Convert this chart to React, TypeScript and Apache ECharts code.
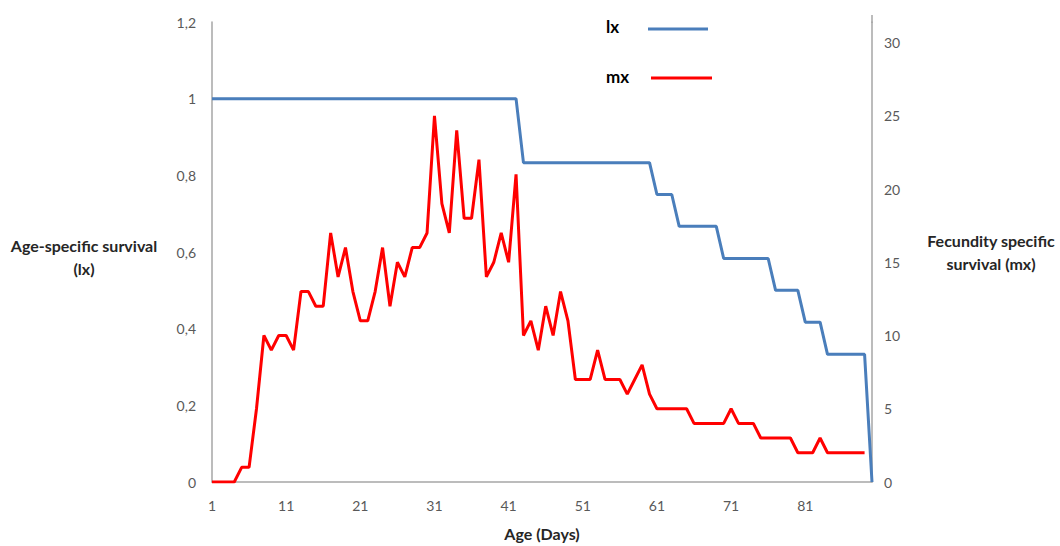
import React, { useEffect, useRef } from "react";
import * as echarts from "echarts";

// Age in days (categories 1..90)
const ageDays: string[] = [
  "1","2","3","4","5","6","7","8","9","10",
  "11","12","13","14","15","16","17","18","19","20",
  "21","22","23","24","25","26","27","28","29","30",
  "31","32","33","34","35","36","37","38","39","40",
  "41","42","43","44","45","46","47","48","49","50",
  "51","52","53","54","55","56","57","58","59","60",
  "61","62","63","64","65","66","67","68","69","70",
  "71","72","73","74","75","76","77","78","79","80",
  "81","82","83","84","85","86","87","88","89","90",
];

// Age-specific survival (lx), left axis
const lxValues: number[] = [
  1, 1, 1, 1, 1, 1, 1, 1, 1, 1,
  1, 1, 1, 1, 1, 1, 1, 1, 1, 1,
  1, 1, 1, 1, 1, 1, 1, 1, 1, 1,
  1, 1, 1, 1, 1, 1, 1, 1, 1, 1,
  1, 1, 0.833, 0.833, 0.833, 0.833, 0.833, 0.833, 0.833, 0.833,
  0.833, 0.833, 0.833, 0.833, 0.833, 0.833, 0.833, 0.833, 0.833, 0.833,
  0.75, 0.75, 0.75, 0.667, 0.667, 0.667, 0.667, 0.667, 0.667, 0.583,
  0.583, 0.583, 0.583, 0.583, 0.583, 0.583, 0.5, 0.5, 0.5, 0.5,
  0.417, 0.417, 0.417, 0.333, 0.333, 0.333, 0.333, 0.333, 0.333, 0,
];

// Fecundity (mx), right axis
const mxValues: (number | null)[] = [
  0, 0, 0, 0, 1, 1, 5, 10, 9, 10,
  10, 9, 13, 13, 12, 12, 17, 14, 16, 13,
  11, 11, 13, 16, 12, 15, 14, 16, 16, 17,
  25, 19, 17, 24, 18, 18, 22, 14, 15, 17,
  15, 21, 10, 11, 9, 12, 10, 13, 11, 7,
  7, 7, 9, 7, 7, 7, 6, 7, 8, 6,
  5, 5, 5, 5, 5, 4, 4, 4, 4, 4,
  5, 4, 4, 4, 3, 3, 3, 3, 3, 2,
  2, 2, 3, 2, 2, 2, 2, 2, 2, null,
];

const FONT = "Lato, 'Open Sans', sans-serif";
const TITLE_FONT = `bold 16px ${FONT}`;

export default function App() {
  const ref = useRef<HTMLDivElement>(null);

  useEffect(() => {
    if (!ref.current) return;
    const chart = echarts.init(ref.current, null, { renderer: "svg" });
    chart.setOption({
      animation: false,
      backgroundColor: "#ffffff",
      textStyle: { fontFamily: FONT },
      grid: { left: 212, right: 188, top: 22, bottom: 60, containLabel: false },
      xAxis: {
        type: "category",
        data: ageDays,
        boundaryGap: false,
        axisLine: { lineStyle: { color: "#a6a6a6", width: 1.5 } },
        axisTick: { show: false },
        axisLabel: { interval: 9, color: "#595959", fontSize: 14, margin: 16, fontFamily: FONT },
        splitLine: { show: false },
        name: "Age (Days)",
        nameLocation: "middle",
        nameGap: 43,
        nameTextStyle: { fontWeight: "bold", fontSize: 16, color: "#262626", fontFamily: FONT },
      },
      yAxis: [
        {
          type: "value",
          position: "left",
          min: 0,
          max: 1.2,
          interval: 0.2,
          axisLine: { show: true, lineStyle: { color: "#a6a6a6", width: 1.5 } },
          axisTick: { show: false },
          splitLine: { show: false },
          axisLabel: {
            color: "#595959",
            fontSize: 14,
            margin: 16,
            fontFamily: FONT,
            formatter: (v: number) => String(Math.round(v * 10) / 10).replace(".", ","),
          },
        },
        {
          type: "value",
          position: "right",
          min: 0,
          max: 31.4,
          interval: 5,
          axisLine: { show: true, lineStyle: { color: "#a6a6a6", width: 1.5 } },
          axisTick: { show: false },
          splitLine: { show: false },
          axisLabel: {
            color: "#595959",
            fontSize: 14,
            margin: 12,
            fontFamily: FONT,
            formatter: (v: number) => (Math.abs(v % 5) < 1e-9 ? String(v) : ""),
          },
        },
      ],
      series: [
        {
          name: "lx",
          type: "line",
          yAxisIndex: 0,
          data: lxValues,
          symbol: "none",
          lineStyle: { color: "#4a7ebb", width: 3 },
          itemStyle: { color: "#4a7ebb" },
        },
        {
          name: "mx",
          type: "line",
          yAxisIndex: 1,
          data: mxValues,
          symbol: "none",
          lineStyle: { color: "#ff0000", width: 3 },
          itemStyle: { color: "#ff0000" },
        },
      ],
      graphic: [
        {
          type: "line",
          shape: { x1: 872, y1: 15, x2: 872, y2: 23 },
          style: { stroke: "#a6a6a6", lineWidth: 1.5 },
        },
        {
          type: "text",
          left: 606,
          top: 18,
          style: { text: "lx", font: `bold 17px ${FONT}`, fill: "#000000" },
        },
        {
          type: "line",
          shape: { x1: 648, y1: 29, x2: 708, y2: 29 },
          style: { stroke: "#4a7ebb", lineWidth: 3 },
        },
        {
          type: "text",
          left: 606,
          top: 68,
          style: { text: "mx", font: `bold 17px ${FONT}`, fill: "#000000" },
        },
        {
          type: "line",
          shape: { x1: 651, y1: 78, x2: 712, y2: 78 },
          style: { stroke: "#ff0000", lineWidth: 3 },
        },
        {
          type: "text",
          x: 84,
          y: 245,
          style: {
            text: "Age-specific survival",
            font: TITLE_FONT,
            fill: "#262626",
            textAlign: "center",
            textVerticalAlign: "middle",
          },
        },
        {
          type: "text",
          x: 84,
          y: 268,
          style: {
            text: "(lx)",
            font: TITLE_FONT,
            fill: "#262626",
            textAlign: "center",
            textVerticalAlign: "middle",
          },
        },
        {
          type: "text",
          x: 991,
          y: 240,
          style: {
            text: "Fecundity specific",
            font: TITLE_FONT,
            fill: "#262626",
            textAlign: "center",
            textVerticalAlign: "middle",
          },
        },
        {
          type: "text",
          x: 991,
          y: 263,
          style: {
            text: "survival (mx)",
            font: TITLE_FONT,
            fill: "#262626",
            textAlign: "center",
            textVerticalAlign: "middle",
          },
        },
      ],
    });
    return () => chart.dispose();
  }, []);

  return (
    <div
      ref={ref}
      style={{ position: "absolute", left: 0, top: 0, width: 1060, height: 546, background: "#ffffff" }}
    />
  );
}
